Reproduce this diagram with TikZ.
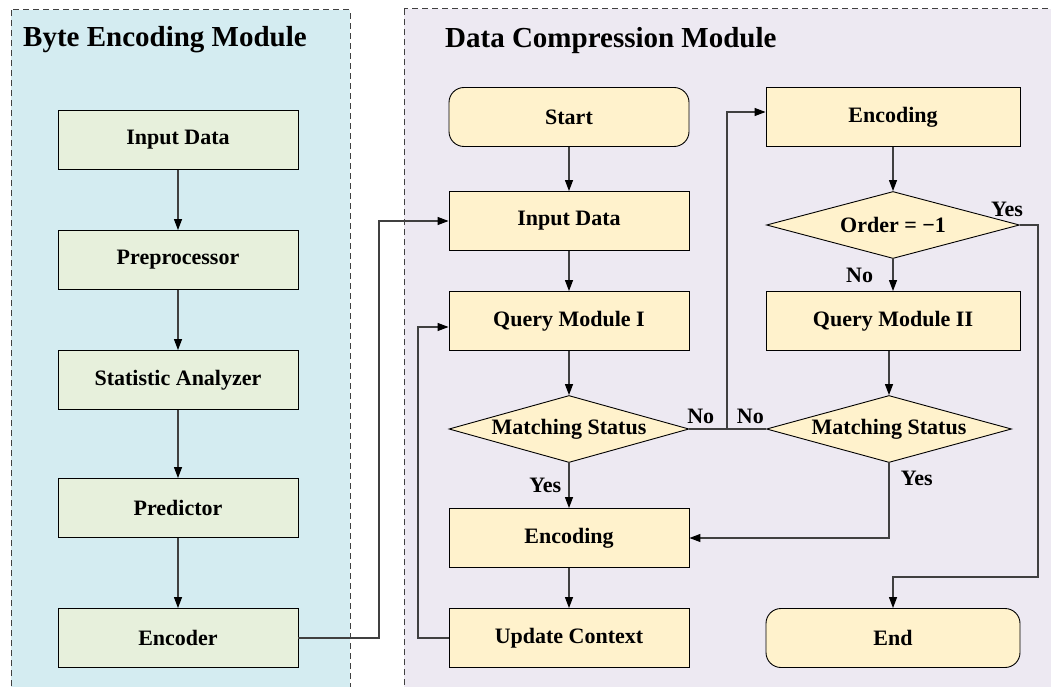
\documentclass[tikz,border=0pt]{standalone}
\usepackage{fontspec}
\setmainfont{Liberation Serif}
\usetikzlibrary{arrows.meta, shapes.geometric}

\definecolor{encpanel}{RGB}{212,236,241}
\definecolor{cmppanel}{RGB}{237,233,242}
\definecolor{encfill}{RGB}{231,240,220}
\definecolor{cmpfill}{RGB}{255,242,204}
\definecolor{wire}{RGB}{64,64,64}

\begin{document}
\begin{tikzpicture}[x=1pt, y=-1pt,
                    font=\fontsize{22pt}{25pt}\selectfont\bfseries,
                    panel/.style={draw=wire, dash pattern=on 6pt off 4pt, line width=1pt},
                    title/.style={anchor=base west, inner sep=0pt,
                                  font=\fontsize{29pt}{32pt}\selectfont\bfseries},
                    encstep/.style={rectangle, draw, line width=0.9pt, fill=encfill,
                                    minimum width=240pt, minimum height=59pt},
                    cmpstep/.style={rectangle, draw, line width=0.9pt, fill=cmpfill,
                                    minimum width=240pt, minimum height=59pt},
                    terminal/.style={cmpstep, rounded corners=15pt},
                    decision/.style={diamond, draw, line width=0.9pt, fill=cmpfill,
                                     inner sep=0pt, aspect=3.6, minimum height=67pt},
                    link/.style={draw=wire, line width=1.2pt},
                    flow/.style={link, -{Triangle[length=11pt, width=8pt, color=black]}}]
  \useasboundingbox (0, 0) rectangle (1051, 687);
  \clip (0, 0) rectangle (1051, 687);

  % Module panels.
  \draw [panel, fill=encpanel] (11, 10) rectangle (350, 700);
  \draw [panel, fill=cmppanel] (404, 9) rectangle (1065, 700);
  \node at (23, 47) [title, name=encTitle] {Byte Encoding Module};
  \node at (445, 48) [title, name=cmpTitle] {Data Compression Module};

  % Byte encoding steps.
  \node at (178, 140) [encstep, name=encInput] {Input Data};
  \node at (178, 260) [encstep, name=preproc] {Preprocessor};
  \node at (178, 380) [encstep, name=statistic] {Statistic Analyzer};
  \node at (178, 508) [encstep, name=predictor] {Predictor};
  \node at (178, 638) [encstep, name=encoder] {Encoder};

  % Compression, first column.
  \node at (569, 117) [terminal, name=start] {Start};
  \node at (569, 221) [cmpstep, name=cmpInput] {Input Data};
  \node at (569, 321) [cmpstep, name=query1] {Query Module I};
  \node at (569, 429) [decision, minimum width=240pt, name=match1] {Matching Status};
  \node at (569, 538) [cmpstep, name=encode1] {Encoding};
  \node at (569, 638) [cmpstep, name=update] {Update Context};

  % Compression, second column.
  \node at (893, 117) [cmpstep, minimum width=254pt, name=encode2] {Encoding};
  \node at (893, 225) [decision, minimum width=253pt, name=order] {Order = −1};
  \node at (893, 321) [cmpstep, minimum width=254pt, name=query2] {Query Module II};
  \node at (889, 429) [decision, minimum width=245pt, name=match2] {Matching Status};
  \node at (893, 638) [terminal, minimum width=254pt, name=finish] {End};

  % Bends for the routed connectors.
  \coordinate (hop) at (379, 638);
  \coordinate (loop) at (418, 638);
  \coordinate (junction) at (727, 429);
  \coordinate (yesturn) at (1038, 577);

  % Byte encoding chain, handed over to the compressor.
  \draw [flow] (encInput) -- (preproc);
  \draw [flow] (preproc) -- (statistic);
  \draw [flow] (statistic) -- (predictor);
  \draw [flow] (predictor) -- (encoder);
  \draw [flow] (encoder.east) -- (hop) |- (cmpInput.west);

  % First column.
  \draw [flow] (start) -- (cmpInput);
  \draw [flow] (cmpInput) -- (query1);
  \draw [flow] (query1) -- (match1);
  \draw [flow] (match1)
               to node [left, xshift=-4pt] {Yes}
               (encode1);
  \draw [flow] (encode1) -- (update);
  \draw [flow] (update.west) -- (loop) |- ([yshift=-6pt]query1.west);

  % No match: both columns go to the second encoder.
  \draw [link] (match1.east) -- node [pos=.3, above, yshift=1pt] {No} (junction);
  \draw [link] (match2.west) -- node [pos=.4, above, yshift=1pt] {No} (junction);
  \draw [flow] (junction) |- ([yshift=5pt]encode2.west);

  % Second column.
  \draw [flow] (encode2) -- (order);
  \draw [flow] (order)
               to node [left, xshift=-16pt] {No}
               (query2);
  \draw [flow] (query2.south -| match2.north) -- (match2.north);
  \draw [flow] (match2.south)
               |- node [pos=.1, right, xshift=8pt] {Yes}
               (encode1.east);
  \draw [flow] (order.east)
               -| node [pos=0, above, xshift=-13pt, yshift=4pt] {Yes}
               (yesturn) -| (finish.north);
\end{tikzpicture}
\end{document}
